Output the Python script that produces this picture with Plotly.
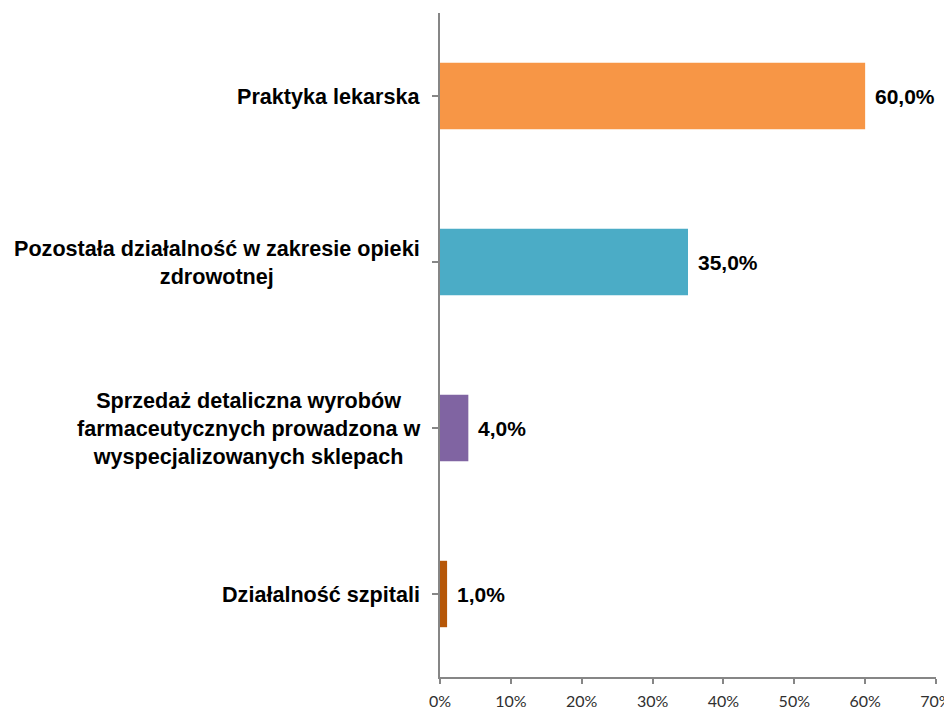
import plotly.graph_objects as go

categories = [
    "Praktyka lekarska",
    "Pozostała działalność w zakresie opieki<br>zdrowotnej",
    "Sprzedaż detaliczna wyrobów<br>farmaceutycznych prowadzona w<br>wyspecjalizowanych sklepach",
    "Działalność szpitali",
]
values = [60.0, 35.0, 4.0, 1.0]
colors = ["#F79646", "#4BACC6", "#8064A2", "#B65708"]
x_ticks = [0, 10, 20, 30, 40, 50, 60, 70]
x_tick_labels = [f"{t}%" for t in x_ticks]

ids = list(range(len(categories)))

fig = go.Figure()
fig.add_trace(go.Bar(
    y=ids, x=values, orientation="h",
    marker=dict(color=colors, line=dict(width=0)),
    width=0.4,
    hoverinfo="skip",
))

label_font = dict(family="Liberation Sans, Arial", size=21.6, color="#000000", weight="bold")
value_font = dict(family="Liberation Sans, Arial", size=21, color="#000000", weight="bold")
annotations = []
for i, (c, v) in enumerate(zip(categories, values)):
    annotations.append(dict(
        x=-0.037, xref="paper", y=i, yref="y", text=c,
        xanchor="right", yanchor="middle", align="center", showarrow=False,
        font=label_font,
    ))
    annotations.append(dict(
        x=v, xref="x", y=i, yref="y", text=f"{v:.1f}%".replace(".", ","),
        xanchor="left", yanchor="middle", showarrow=False, xshift=8,
        font=value_font,
    ))

fig.update_layout(
    width=952, height=709,
    margin=dict(l=432, r=24, t=5, b=40),
    paper_bgcolor="white", plot_bgcolor="white",
    showlegend=False,
    annotations=annotations,
    xaxis=dict(
        range=[0, 70], tickvals=x_ticks, ticktext=x_tick_labels,
        showgrid=False, zeroline=False,
        showline=True, linecolor="#868686", linewidth=1.5,
        ticks="outside", ticklen=5, tickcolor="#868686", tickwidth=1.5,
        ticklabelstandoff=4,
        tickfont=dict(family="Lato, Open Sans", size=16, color="#303030"),
        automargin=False,
        fixedrange=True,
    ),
    yaxis=dict(
        range=[3.5, -0.5], tickmode="array", tickvals=ids, ticktext=["" for _ in ids],
        showticklabels=False,
        tickson="boundaries", ticks="outside", ticklen=6, tickcolor="#868686", tickwidth=1.5,
        showgrid=False, zeroline=False,
        showline=True, linecolor="#868686", linewidth=1.5,
        automargin=False,
        fixedrange=True,
    ),
)

fig.write_html("out.html")
